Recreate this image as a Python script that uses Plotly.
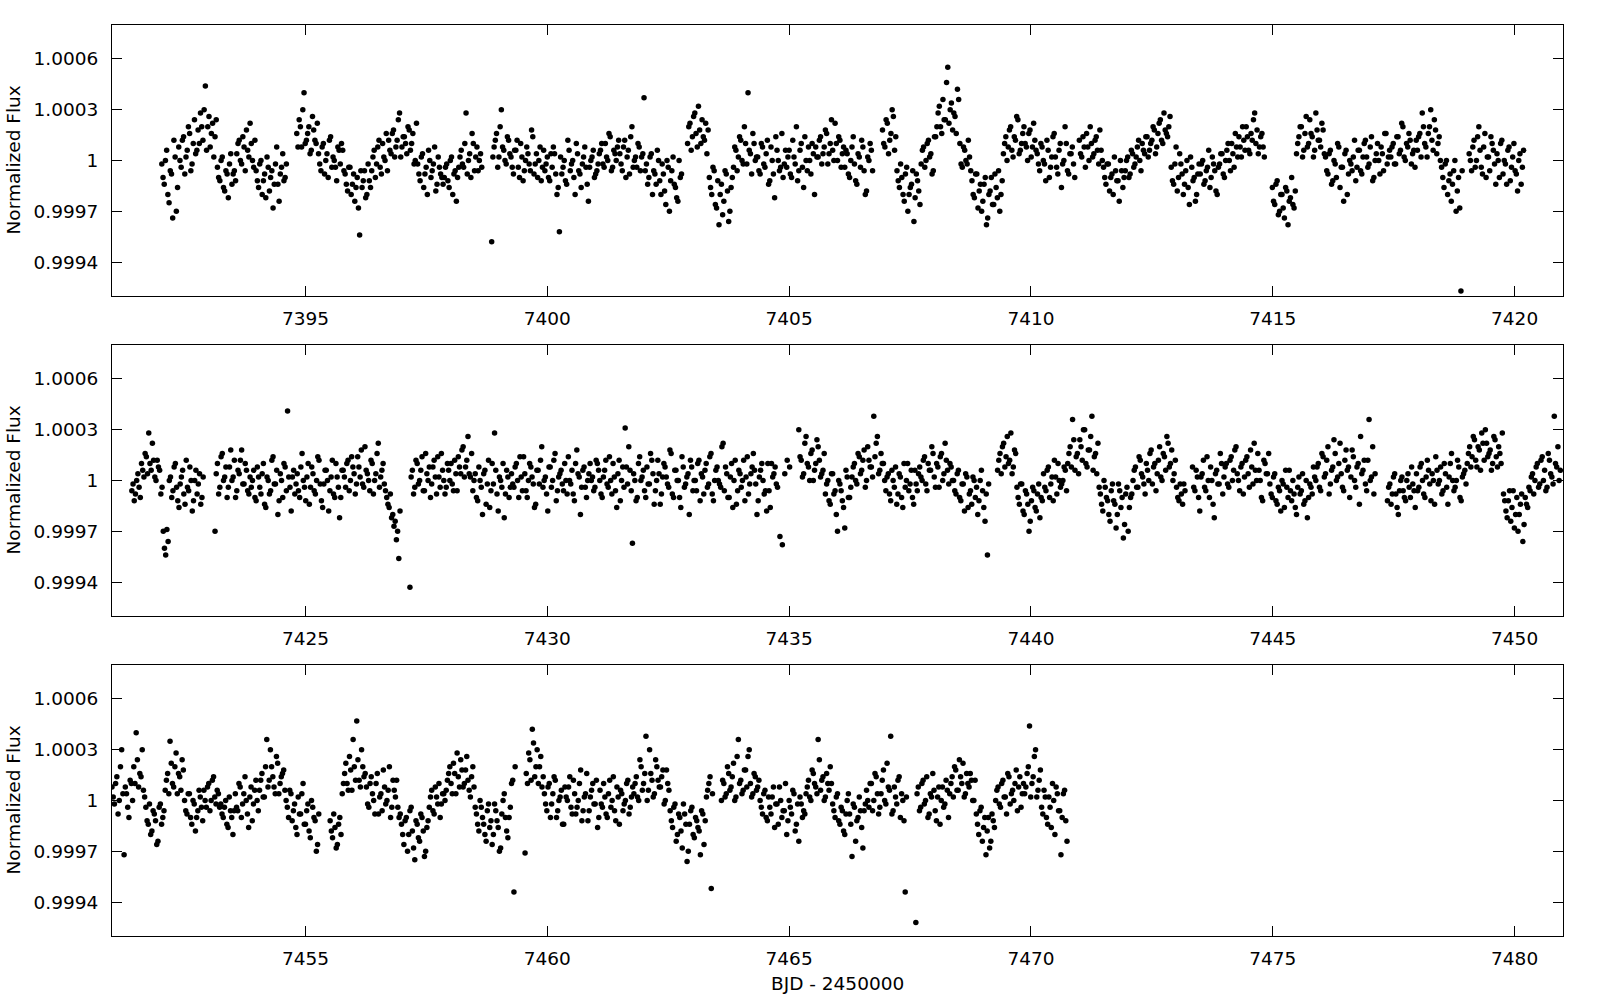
import plotly.graph_objects as go
from plotly.subplots import make_subplots

# ---------------- data (flux deviations in units of 1e-5) --------------------------------
# Each segment: start time, and flux readings every CADENCE days.
# "_A" readings sit on the cadence grid, "_B" readings half a cadence later.
CADENCE = 0.05
FLUX_UNIT = 1e-5

P1_START = [7392.03, 7394.82, 7398.85, 7402.90, 7406.93, 7411.00, 7414.99, 7419.06]
P1_FLUX_A = [
    [-2, -14, 6, -25, -8, 12, -30, 8, -4, 14, 2, 20, -6, 10, 4, 18, 28, 12, 44, 20, 8, 22, 14,
     -4, -12, 2, -18, -8, -2, -14, -6, 4, 12, -2, 8, 18, 2, 10, -4,
     -6, -16, 0, -12, -22, -4, -10, -28, -2, -14, -8, 4, -10],
    [16, 24, 8, 40, 12, 20, 6, 18, 10, 4, -6, 10, 0, -10, 14, 2, -4, 8, -2, 6,
     -8, -18, -4, -14, -24, -10, -44, -16, -6, -20, -12, -6, 6, -2, 12, -8, 2, 16,
     12, 4, 18, 8, 24, 2, 14, 10, 20, 6, 16, 0, -2, -12, 4, -8, -20, 0, -6, 8, -14, -4, -10,
     -10, -2, -16, 2, -8, -24, -4, 6, -4, 28, 0, -10, 10, 2, -6, 4],
    [-48, 8, 16, 2, 30, 6, -2, 12, 2, -8, 6, -4, 10, -12, 0, 4, -6, 14, -2, -10, 8, -4,
     -6, 2, -12, -4, 4, -20, -42, -8, 0, -14, 6, -2, -10, 10, -6, -16, 2, -4, -24, 0, 6, -8, -2,
     6, -2, 10, 0, 14, -4, 4, 8, 4, -6, 12, 2, -8, 20, 0, -4, 8, 2,
     37, -2, -10, 4, -6, -14, 0, -20, -8, -26, -4, -12, 2, -16, -24, -10],
    [10, 22, 14, 28, 8, 18, 24, 12, 4, -10, -20, -6, -28, -38, -14, -24, -8, -36, -16,
     -4, 6, 2, 12, -2, 10, 40, 4, 16, 0, 2, -8, 8, -4, 12, -12, 0, -22, 6, -6, 16, -2,
     -4, 6, -10, 2, 20, -6, 10, -16, 0, 8, -8, 4, 8, 2, 14, 4, 18, -2, 10, 6, 22, 0, 12, 4,
     -4, 4, -10, 8, -2, -14, 2, 12, -6, -18, 0, 6],
    [18, 8, 22, 12, 30, 6, -6, -16, -10, -24, -4, -20, -14, -36, -8, -18, -2, 8, 0, 12, 4, -6,
     14, 28, 20, 36, 24, 55, 30, 18, 26, 42, 10, -4, 6, -2, 2,
     -12, -22, -8, -18, -30, -14, -38, -20, -10, -26, -16, -6, -20,
     4, 14, 8, 20, 2, 12, 24, 6, 16, 10, 0, 18, 8, 12,
     4, -6, 8, -2, 12, -10, 2, 16, -4, 6, -16, 0, 10, -8, 4, -2],
    [12, 2, 8, 16, 0, 10, 4, 14, -2, 6, -4, -14, -2, -10, -20, -6, -12, 0, -16,
     -6, 2, -8, 4, -2, 8, 0, 10, 4, 14, 6, 12, 18, 8, 22, 12, 28, 16, 20,
     -4, -14, 8, -10, -2, -20, -6, -16, 2, -12, -24, -8,
     -8, 0, -12, -4, -16, 2, -6, -20, -2, 4, -10, 6, 0, 10, -4, 8, 14, 2, 12, 20, 6, 16, 24, 10, 4, 14, 8],
    [-16, -26, -12, -30, -20, -34, -18, -24, -10, -28, 4, 14, 20, 6, 26, 10, 16, 2, 28, 12, 8, 18,
     2, -8, 6, -12, -2, 10, -16, -4, 4, -20, 0, -6, 12, -4, 6, -8, 10, 2, -2, 14, -10, 4, 0, 8, -6, 16, 2,
     2, 10, -2, 14, 6, 20, 0, 8, 12, 4, -4, 6, 16, 28, 10, 2, 20, 12, 24, 4, 14,
     -4, -16, 0, -12, -24, -6, -30, -10, -77],
    [4, -6, 12, 0, 20, -4, 8, -10, 2, 14, 6, -14, 0, 10, -8, -2, 6, -12, 2, -6, -18, 4, -4],
]
P1_FLUX_B = [
    [-10, 0, -20, -6, -34, 2, -16, 0, 12, -8, 6, 16, -2, 24, 6, 10, 20, 30, 6, 26, 16, 2, 24,
     -10, 0, -16, -6, -22, 4, -8, -12, 10, 0, 14, -6, 6, 22, 0, 12,
     -12, -2, -20, -8, 2, -18, -6, -14, 8, -24, -4, -12, -2],
    [8, 20, 30, 10, 16, 4, 26, 12, 22, -2, 8, -8, 4, 12, -4, 0, -12, 6, 10, -6,
     -14, -4, -20, -8, -16, -28, -6, -12, -22, -2, -16, 2, -10, 8, -4, 10, 0, -6,
     6, 16, 2, 12, 28, 8, 14, 4, 18, 10, -2, 22, -8, 2, -16, -4, 6, -10, -2, -18, 2, -8, -14,
     -4, -12, 0, -20, -6, -10, 2, -2, 10, -8, 4, 16, -6, 8, 0, -4],
    [2, 12, -4, 20, 8, 0, 14, 4, -4, 6, 12, -10, 2, -6, 8, -2, 18, -8, 4, 0, -12, 6,
     -2, -10, 4, 8, -8, -16, 2, -4, -12, 12, -6, 0, -20, 4, -8, -2, 8, -14, -4, 2, -10, -6, 4,
     10, -4, 2, 16, -6, 6, 0, 12, -2, 8, -10, 6, 14, -4, 2, 10, -6, 4,
     -6, -14, 2, -20, -8, 6, -12, -2, -18, 0, -30, -6, -14, -22, 0, -8],
    [20, 6, 26, 16, 32, 10, 14, 22, 18, -16, -4, -26, -12, -20, -32, -6, -18, -30, -10,
     8, -6, 14, 0, 20, -2, 6, -8, 10, 2, -6, 10, -2, 4, -14, 8, -8, 14, 0, -4, -10, 6,
     2, -8, 12, -2, -12, 6, -4, 14, -6, 0, 10, -20, 2, 12, -2, 8, 16, 4, 24, 0, 10, 14, -4, 8,
     6, -8, 0, 14, -12, 4, -4, 8, -20, 2, 10, -6],
    [10, 24, 4, 16, 26, 14, -12, -2, -20, -8, -30, -16, -6, -22, -12, -26, 6, -4, 10, 2, -8, 14,
     20, 32, 16, 24, 46, 22, 34, 28, 16, 36, -2, 8, 0, 12, -6,
     -20, -8, -28, -14, -24, -10, -34, -18, -26, -8, -22, -30, -12,
     10, 0, 18, 6, 14, 26, 4, 10, 20, 8, 16, 2, 22, 6,
     -2, 10, 0, -12, 6, -4, 14, 2, -8, 10, -2, 20, -6, 4, 8, -10],
    [4, 14, -4, 8, 20, 2, 12, 6, 18, 0, -10, -2, -18, -8, 2, -12, -24, -6, -10,
     0, -10, 6, -4, 2, 12, -6, 6, 14, 2, 10, 20, 4, 16, 24, 10, 18, 14, 26,
     -12, -2, -18, 4, -8, -14, 0, -26, -4, -10, -20, -2,
     -2, -14, -6, 6, -10, -2, -18, -4, 4, -8, 0, 10, -6, 4, 16, 2, 8, 20, 6, 14, 4, 12, 28, 18, 8, 16, 2],
    [-24, -14, -32, -20, -28, -16, -38, -22, -26, -18, 10, 20, 2, 16, 8, 24, 14, 6, 18, 12, 22, 4,
     -6, 4, -14, 0, -10, 8, -4, -24, 6, -8, -2, 2, -12, 6, -6, 2, 12, -4, 8, -12, 0, 10, -8, 4, 16, -2, 6,
     8, -2, 14, 4, 22, 2, 10, 16, -2, 6, 12, 14, 2, 20, 8, 16, 30, 6, 18, 10, 0,
     -10, -2, -20, -8, -14, 0, -18, -28, -6],
    [0, 8, -4, 14, 6, -8, 16, 2, -6, 10, -2, 4, -10, 12, 0, -14, 8, -4, 10, -8, 0, -14, 6],
]

P2_START = [7421.41, 7423.13, 7427.16, 7435.20, 7439.31, 7443.34, 7447.37]
P2_FLUX_A = [
    [-6, -12, 0, -4, 10, 2, 14, 28, 6, 12, 0, 8,
     -8, -30, -44, -36, 2, -6, 10, -12, -2, 6, -14, -4, 8, -18, 0, -8, 4, -10],
    [-30, 10, -4, 16, 2, -10, 8, 0, 12, -6, 4, 18, -2, 6, -8,
     -4, 6, -12, 2, -8, 10, -16, 0, -6, 14, -2, -20, 4, -10, 8, 41, -4, 2, -8,
     4, -10, 16, -4, 2, -14, 8, -6, 0, 12, -12, -2, 6, -18, 2, -8, 10, -4, -10,
     6, -4, 12, 0, 8, -8, 14, 2, -2, 20, 4, -6, 10, 0, 16, -4, 6,
     -2, -10, -16, -22, -27, -35, -46],
    [-63, 6, -4, 10, 0, 14, -6, 4, 8, -2, 12, -8, 2, 16, 0, -4, 6, 10, -6, 4,
     14, 4, 20, 8, 26, 2, -6, 4, -12, 0, -20, 6, -2, -16, 10, 28, -8, 2, -4, -22, 6, -10,
     4, -4, 10, -10, 2, 14, -6, 0, 8, -2, -14, 6, 12, -4, 2, -18, 8, 0, 16, -6, 4, -2,
     10, -8, 0, 6, -12, 18, 2, -4, 8, -10, 4, 0, -6, 12,
     6, -8, 2, 12, -4, 0, 10, -6, 4, -12, 8, 31, -2, 6, -37, 0, -10, 14, 2, -6, 8, -2, 12, -14,
     0, 4, -8, 10, 2, -4, 16, -10, 6, 0, -16, 8, -2, 4, 12, -6, 0, 10, -12, 2, 6, -4, 14, -8,
     0, 8, -2, 20, -6, 4, -10, 10, 0, -14, 6, -4, 12, 2, -8, 4, 16, -2, -12, 6, 0, -6, 10, -16,
     2, 8, -4, -33, -38, 4, 12, 8],
    [30, 12, 4, 26, 8, 16, 0, 10, 20, 2, 6, -8, 0, -14, 4, -6, -30, -2, -12, -28, 2, -10,
     2, 10, -2, 14, 6, 18, 0, 12, 8, 38, 22, 4, 16, 10, -6, 4, -12, 0, 8, -8, 2, -16, -4, 10, -2, -10, 6, -6,
     8, 0, 14, -6, 6, 20, 2, 10, -4, 16, 4, 12, -2, 8,
     0, -8, 6, -12, -2, 4, -16, -6, 2, -10, -20, 0, -6, -24, -44],
    [6, 16, 20, 8, 26, 12, 4, 18, -4, -14, -2, -20, -8, -30, -12, -6, -18, -2, -10,
     4, -6, 8, -2, -12, 2, 10, -4, 0, 6, 10, 20, 36, 6, 16, 24, 12, 30, 8, 18, 38, 14, 4,
     -4, -14, 0, -10, -20, -6, -12, -28, -2, -16, -34, -8, -30, -10,
     0, 8, -4, 12, 2, -8, 6, 16, -2, 10, 4, 20, 0, 14, 26, 8, 18, 4, -4, -12, -8, -2],
    [8, -6, 2, -18, 4, -4, 14, -10, 0, -22, 6, -2, 10,
     2, 10, -4, 14, 6, 20, 0, 8, -8, 12, 4, 18, -2, 6, 16, 0, -12, 10, 4,
     -2, -10, 4, -14, -6, 0, -16, -4, 6, -12, -8, -20, 2, -6, -14, 0, -10, -4, 8,
     0, 10, -6, 14, 4, 20, -2, 8, 16, 2, 22, -4, 12, 6, -10, 18, 0, 8, -14, 4, 12, -6, 36, 2, -8],
    [-12, -2, -8, 4, -16, -6, 2, -10, 0, -4, 8, -6,
     4, -4, 10, -8, 2, 6, -12, 0, 14, -2, 8, -6, 4, -14, 10, 0, -4, 12, -10, 2, 6,
     10, 20, 14, 24, 8, 18, 28, 12, 22, 16, 6, 26, 14, 20, 10,
     -8, -18, -12, -24, -6, -20, -30, -14, -36, -10, -16,
     -6, 4, 0, 10, -2, 14, 6, -4, 12, 2, 38, 8, 0],
]
P2_FLUX_B = [
    [-2, -8, 4, -10, 6, 16, 4, 10, 22, 2, 12, 6,
     -4, -40, -29, 0, -10, 8, -4, -16, 2, -8, 12, -6, 0, -12, 6, -2, -14, 2],
    [4, -8, 14, 0, 8, -4, 18, 2, -10, 6, 12, -2, 10, -6, 2,
     0, -10, 8, -4, 4, -14, 2, -8, 12, -2, 6, -12, 0, 10, -6, 2, -18, 6, -2,
     -6, 8, 0, -12, 10, -4, 4, -8, 14, -2, -16, 6, 0, -6, 12, -10, 2, -22, 6,
     2, 10, -6, 14, 4, -2, 8, 18, -4, 6, 0, 12, -8, 4, 22, 2, 10,
     -6, -14, -8, -20, -24, -30, -18],
    [2, -8, 12, -2, 6, -6, 16, 0, -10, 8, 2, 14, -4, 6, -8, 10, 0, -2, 12, -6,
     8, 18, 2, 12, 4, 16, 0, -10, 8, -4, 4, -14, 12, -6, -2, 6, -18, 0, 10, -8, 2, -4,
     -2, 8, 0, 14, -6, 4, -10, 10, 2, -16, 6, -2, 20, 0, -8, 8, -4, 12, -12, 2, 6, -6,
     0, 14, -2, -8, 10, 4, -20, 6, -4, 0, 10, 2,
     -4, 10, 0, -10, 6, -2, 14, -8, 2, -16, 12, 0, -4, 8, 20, -6, 4, -12, 10, 0, 6, -10, -2, 16,
     4, -6, 12, -14, 2, 8, -2, 18, -8, 6, 0, -10, 14, -4, 2, -20, 8, 0, -6, 12, 4, -8, 10, -2,
     16, -12, 6, 0, -4, 22, 8, -10, 2, -16, 12, -6, 4, 0, -12, 14, -2, 8, 6, -20, 2, 10, -8, -18,
     -6, 10, 4, -2],
    [14, 2, 22, 10, 0, 18, 6, 24, 12, 4, 16, -2, -12, 4, -8, -20, 0, -6, -16, 6, -10, -4,
     8, 0, 16, 4, 12, -4, 20, 8, 2, 14, 26, 6, 10, 0, 2, -8, 6, -4, -14, 4, -10, 10, 0, -6, 6, -14, -2, 4,
     2, 12, -2, 10, 6, 16, -4, 8, 14, 0, 22, 6, 10, 0,
     -6, 4, -10, -2, -18, 2, -8, -14, 0, -4, -12, 6, -16, -8, -2],
    [12, 4, 22, 14, 10, 28, 8, 16, -10, -2, -18, -6, -14, -24, -4, -16, -8, -22, -12,
     -4, 6, -10, 2, 12, -8, 0, -2, 8, -6, 16, 8, 24, 14, 4, 20, 30, 10, 18, 26, 6, 16, 22,
     -8, -18, -4, -12, -24, -2, -14, -20, -6, -10, -26, -4, -16, -8,
     6, -4, 14, 4, -2, 10, 0, 18, 8, -6, 12, 2, 16, 6, 22, 10, 0, 12, -10, -2, -14, -6],
    [-4, 6, -10, 2, 12, -6, 0, 8, -14, 4, -2, 16, -8,
     8, -2, 12, 0, 18, 4, -6, 10, 2, 14, -4, 8, 22, 0, 6, -10, 12, 4, 16,
     -8, 2, -12, -4, -18, -2, 6, -10, -6, 0, -16, -4, -8, 4, -12, -22, -2, -8, 2,
     8, -4, 16, 2, 12, -8, 6, 24, 0, 10, 4, -6, 18, 8, 2, 14, -4, 10, 26, 6, -2, 12, 0, 20, 4],
    [-4, -14, 2, -8, -20, 0, -6, -12, 4, -10, -2, -16,
     -6, 8, 0, -10, 12, -2, 4, -14, 6, 0, -8, 10, -4, 2, 16, -6, 0, 8, -12, 4, -2,
     16, 8, 26, 12, 20, 6, 22, 30, 14, 18, 10, 24, 8, 16, 28,
     -12, -22, -6, -16, -28, -10, -20, -8, -26, -14, -4,
     2, -8, 8, -4, 12, 0, -6, 16, 4, -2, 10, 20, 6],
]

P3_START = [7451.00, 7455.51, 7459.54, 7463.60, 7467.62]
P3_FLUX_A = [
    [8, -2, 14, 0, 30, -32, 4, -10, 10, 20, 40, 8, 14, 6, -4, -14, -20, -6, -12, -24, -2, -10,
     6, 16, 35, 10, 20, 4, 14, 24, 0, -8, 4, -14, -2, -10, 6, -4, 6, -4, 10, 0, 14, -2, 4,
     -2, -10, 0, -16, -6, -20, 4, -6, 8, -2, 14, -8, 2, -12, 6, 0,
     6, 16, 2, 36, 12, 20, 8, 26, 4, 14, 18, 0, -10, 4, -6, -16, 2, -8, 10, -14, -2, -22, -4, -12, -26],
    [-12, -22, -16, -26, -10, 4, 16, 10, 26, 6, 20, 47, 12, 30, 14,
     8, -4, 14, 0, 10, -8, 4, 18, -2, 6, -10, 12, 2, -4,
     -8, -20, -12, -30, -6, -18, -35, -14, -24, -10, -33, -16, -4, 6, -8, 2, 10, -2, 4,
     6, 16, 10, 22, 4, 14, 24, 8, 18, 12, 2, 20,
     -4, -14, 0, -10, -20, -6, -16, -26, -2, -12, -30, -8, 4, -18, -10, 10, -54],
    [-31, 10, 24, 42, 14, 30, 20, 8,
     4, -6, 10, -2, 14, -10, 0, 6, -14, 2, 8, -4, 12, -8, 0, 18, -6, 4, -12, 2, 10, -2, -16,
     6, -4, 2, -10, 12, 0, -6, 8, -14, 4, -2, 10, -8, 2,
     4, 14, 0, 20, 10, 38, 6, 16, 2, 24, 12, 8, 18, 0, 10,
     -6, -16, -2, -20, -10, -28, -8, -36, -14, -4, -22, -12, -18, -6, -26, 2, 10, -52],
    [0, 10, 4, 16, 8, 22, 2, 36, 12, 6, 18, 26, 10, 4, 14, 8,
     0, -8, 6, -12, -4, 2, -16, -2, 8, -10, -6, -20, 0, -8, 4, -14, -24, -2, -6,
     4, 12, 0, 16, 8, 36, 6, 14, 2, 10, 20,
     -2, -10, 4, -14, -6, -20, 0, -8, -33, -4, -12, 2, -16, -6,
     6, -4, 10, 0, 14, -8, 4, 18, -2, 8, 38, -6, 2, 12, -10, 0, -54],
    [-72, 8, -4, 12, 0, -10, 4, 16, -6, 2, -14, 8, -2, 6,
     4, 14, 20, 6, 24, 10, 2, 16, 8, 12, 0, -8, -20, -4, -16, -32, -10, -24, -12,
     0, 8, -4, 12, 2, 16, -2, 6, 10, -6, 14, 4, 4, 16, 44, 10, 26, 2, 12,
     -4, 6, -10, 2, -16, 0, 8, -6, -32, 4, -12],
]
P3_FLUX_B = [
    [2, 10, -8, 20, 4, 8, -4, 12, 0, 10, 24, 16, 30, 2, -12, -2, -18, -8, -26, -4, -14, -6,
     12, 4, 22, 8, 28, 16, 6, 18, -6, 4, -10, 0, -18, -6, 2, -12, 0, 8, -6, 12, 2, 6, -4,
     -8, -4, -14, 2, -10, -6, -4, 10, -10, 4, 0, -16, 8, -2, 12, -6,
     12, 2, 20, 8, 30, 14, 4, 22, 10, 16, 6, -4, 6, -12, -2, -20, -8, 4, -14, -6, -18, 0, -10, -30, -8],
    [-18, -8, -28, -14, -20, 10, 22, 6, 18, 36, 12, 24, 8, 20, 16,
     -2, 10, 4, -8, 16, 2, -6, 8, 0, 20, -4, 6, 12, -10,
     -14, -26, -10, -20, -4, -28, -12, -22, -8, -18, -30, -12, 2, -6, 8, -2, -10, 4, 0,
     12, 20, 4, 16, 28, 8, 18, 10, 26, 6, 14, 8,
     -8, -18, -4, -14, -24, -2, -12, -20, -6, -16, -28, 0, -10, -22, -4, 12, 20],
    [16, 28, 12, 34, 20, 10, 26, 14,
     -2, 8, -10, 4, 12, -6, 2, -14, 8, 0, 14, -8, 4, -4, 10, -12, 2, 16, -6, 6, -2, 12, -10,
     -2, 10, -8, 4, -4, 14, -12, 2, 6, -6, 0, 12, -4, 8,
     10, 2, 24, 6, 16, 0, 30, 12, 4, 20, 8, 14, -2, 18, 6,
     -12, -4, -24, -8, -18, -2, -14, -30, -6, -20, -10, -16, -32, -8, -12, 6, 14, 4],
    [12, 2, 20, 6, 14, 0, 26, 10, 4, 18, 8, 30, 2, 16, 6, 12,
     -4, 4, -10, 2, -8, 8, -2, -14, 0, -6, 10, -12, -4, 6, -18, -2, 2, -10, -8,
     8, 2, 18, 10, 4, 24, 12, 0, 16, 6, 10,
     -6, 2, -12, -4, -18, -8, 4, -14, -2, -24, -10, -6, -28, -2,
     0, 10, -6, 16, 4, -4, 12, 0, 22, 6, -8, 8, -2, 14, 4, -12, 2],
    [4, -6, 10, -2, 14, -8, 2, 6, -12, 8, 0, -4, 12, -10,
     10, 2, 18, 6, 14, 22, 4, 10, 16, 0, 12, -14, -6, -24, -10, -18, -28, -8, -16,
     6, -2, 10, 2, -8, 14, 4, 0, 18, 8, -4, 10, 8, 20, 2, 14, 30, 6, 18,
     -8, 2, -14, -4, 10, -20, 4, -6, -10, 6, -24],
]

X_RANGES = [[7391, 7421], [7421, 7451], [7451, 7481]]
X_TICKS = [[7395, 7400, 7405, 7410, 7415, 7420],
           [7425, 7430, 7435, 7440, 7445, 7450],
           [7455, 7460, 7465, 7470, 7475, 7480]]
Y_RANGE = [0.9992, 1.0008]
Y_TICKS = [0.9994, 0.9997, 1.0, 1.0003, 1.0006]
Y_TICKTEXT = ["0.9994", "0.9997", "1", "1.0003", "1.0006"]
Y_LABEL = "Normalized Flux"
X_LABEL = "BJD - 2450000"

# ---------------- figure -------------------------------------------------------------------
FONT = "DejaVu Sans"
FS = 18.5
W, H = 1600, 1000
ML, MR, MT, MB = 112, 37, 25, 64
GAP = 49
plot_h = H - MT - MB

fig = make_subplots(rows=3, cols=1, vertical_spacing=GAP / plot_h)

panels = [(P1_START, P1_FLUX_A, P1_FLUX_B),
          (P2_START, P2_FLUX_A, P2_FLUX_B),
          (P3_START, P3_FLUX_A, P3_FLUX_B)]
for row, (starts, flux_a, flux_b) in enumerate(panels, start=1):
    ts, fs = [], []
    for offset, fluxes in ((0.0, flux_a), (0.5, flux_b)):
        for t0, seg in zip(starts, fluxes):
            for i, v in enumerate(seg):
                ts.append(t0 + (i + offset) * CADENCE)
                fs.append(1.0 + v * FLUX_UNIT)
    fig.add_trace(go.Scatter(x=ts, y=fs, mode="markers",
                             marker=dict(size=5.5, color="black", line=dict(width=0)),
                             showlegend=False, hoverinfo="skip"), row=row, col=1)

axis_common = dict(showline=True, linecolor="black", linewidth=1, mirror="ticks",
                   ticks="inside", ticklen=10, tickwidth=1, tickcolor="black",
                   showgrid=False, zeroline=False,
                   tickfont=dict(family=FONT, size=FS, color="black"))

for row in range(1, 4):
    fig.update_xaxes(range=X_RANGES[row - 1], tickvals=X_TICKS[row - 1],
                     ticktext=[str(v) for v in X_TICKS[row - 1]],
                     ticklabelstandoff=6, row=row, col=1, **axis_common)
    fig.update_yaxes(range=Y_RANGE, tickvals=Y_TICKS, ticktext=Y_TICKTEXT,
                     ticklabelstandoff=9, row=row, col=1, **axis_common)

# y-axis titles
for row in range(1, 4):
    yref = "y domain" if row == 1 else f"y{row} domain"
    fig.add_annotation(text=Y_LABEL, xref="paper", yref=yref,
                       x=(13 - ML) / (W - ML - MR), y=0.5, xanchor="center", yanchor="middle",
                       textangle=-90, showarrow=False,
                       font=dict(family=FONT, size=FS, color="black"))

# x-axis title
fig.add_annotation(text=X_LABEL, xref="paper", yref="paper",
                   x=0.5, y=(H - MB - 984) / plot_h, xanchor="center", yanchor="middle",
                   showarrow=False, font=dict(family=FONT, size=FS, color="black"))

fig.update_layout(width=W, height=H, margin=dict(l=ML, r=MR, t=MT, b=MB),
                  paper_bgcolor="white", plot_bgcolor="white",
                  font=dict(family=FONT, size=FS, color="black"))

fig.write_html("out.html")
